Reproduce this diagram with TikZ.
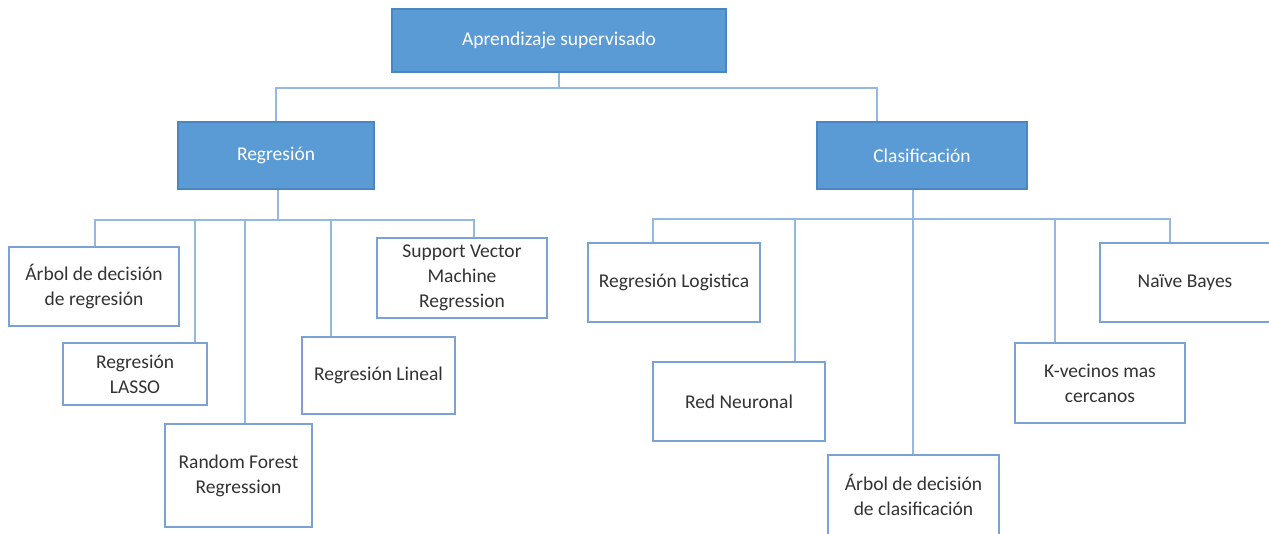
\documentclass[tikz,border=0pt]{standalone}
\usepackage{fontspec}
\setmainfont{Carlito}
\definecolor{headfill}{HTML}{5B9BD5}
\definecolor{headline}{HTML}{4A86C0}
\definecolor{leafline}{HTML}{7AA3D3}
\definecolor{wire}{HTML}{93B8E2}
\definecolor{inktext}{HTML}{333333}
\tikzset{
  base/.style={rectangle, inner sep=0pt, align=center, line width=1.4pt,
    font=\fontsize{19.5}{25}\selectfont},
  head/.style={base, fill=headfill, draw=headline, text=white},
  leaf/.style={base, fill=white, draw=leafline, text=inktext},
  conn/.style={draw=wire, line width=1.5pt},
}
\begin{document}
\begin{tikzpicture}[x=1pt, y=-1pt]
\useasboundingbox (0,0) rectangle (1269,533);
\clip (0,0) rectangle (1269,533);
\fill[white] (0,0) rectangle (1269,533);

% --- boxes
\node[head, minimum width=334pt, minimum height=63pt] (top) at (559,40.5) {Aprendizaje supervisado};
\node[head, minimum width=196pt, minimum height=67pt] (reg) at (276,155.5) {Regresión};
\node[head, minimum width=210pt, minimum height=67pt] (cla) at (922,155.5) {Clasificación};

\node[leaf, minimum width=170pt, minimum height=79pt] (arbr) at (94,286.5) {Árbol de decisión\\de regresión};
\node[leaf, minimum width=144pt, minimum height=62pt] (lasso) at (135,374) {Regresión\\LASSO};
\node[leaf, minimum width=147pt, minimum height=103pt] (rf) at (238.5,475.5) {Random Forest\\Regression};
\node[leaf, minimum width=153pt, minimum height=77pt] (lin) at (378.5,375.5) {Regresión Lineal};
\node[leaf, minimum width=170pt, minimum height=80pt] (svm) at (462,278) {Support Vector\\Machine\\Regression};

\node[leaf, minimum width=172pt, minimum height=79pt] (log) at (674,282.5) {Regresión Logistica};
\node[leaf, minimum width=172pt, minimum height=79pt] (red) at (739,401.5) {Red Neuronal};
\node[leaf, minimum width=171pt, minimum height=80pt] (arbc) at (913.5,495) {Árbol de decisión\\de clasificación};
\node[leaf, minimum width=170pt, minimum height=80pt] (knn) at (1100,383) {K-vecinos mas\\cercanos};
\node[leaf, minimum width=170pt, minimum height=79pt] (nb) at (1185,282.5) {Naïve Bayes};

% --- bus points
\coordinate (b0) at (559,88);
\coordinate (b0r) at (276,88);
\coordinate (b0c) at (877,88);

\coordinate (b1) at (278,220);
\coordinate (r1) at (95,220);
\coordinate (r2) at (195,220);
\coordinate (r3) at (245,220);
\coordinate (r4) at (331,220);
\coordinate (r5) at (474,220);

\coordinate (b2) at (913,219);
\coordinate (c1) at (653,219);
\coordinate (c2) at (795,219);
\coordinate (c3) at (913,219);
\coordinate (c4) at (1055,219);
\coordinate (c5) at (1170,219);

% --- connectors: top level
\draw[conn] (top.south -| b0) -- (b0);
\draw[conn] (reg.north -| b0r) -- (b0r) -- (b0c) -- (cla.north -| b0c);

% --- connectors: regression methods
\draw[conn] (reg.south -| b1) -- (b1);
\draw[conn] (arbr.north -| r1) -- (r1) -- (r5) -- (svm.north -| r5);
\draw[conn] (r2) -- (lasso.north -| r2);
\draw[conn] (r3) -- (rf.north -| r3);
\draw[conn] (r4) -- (lin.north -| r4);

% --- connectors: classification methods
\draw[conn] (cla.south -| b2) -- (b2);
\draw[conn] (log.north -| c1) -- (c1) -- (c5) -- (nb.north -| c5);
\draw[conn] (c2) -- (red.north -| c2);
\draw[conn] (c3) -- (arbc.north -| c3);
\draw[conn] (c4) -- (knn.north -| c4);
\end{tikzpicture}
\end{document}
